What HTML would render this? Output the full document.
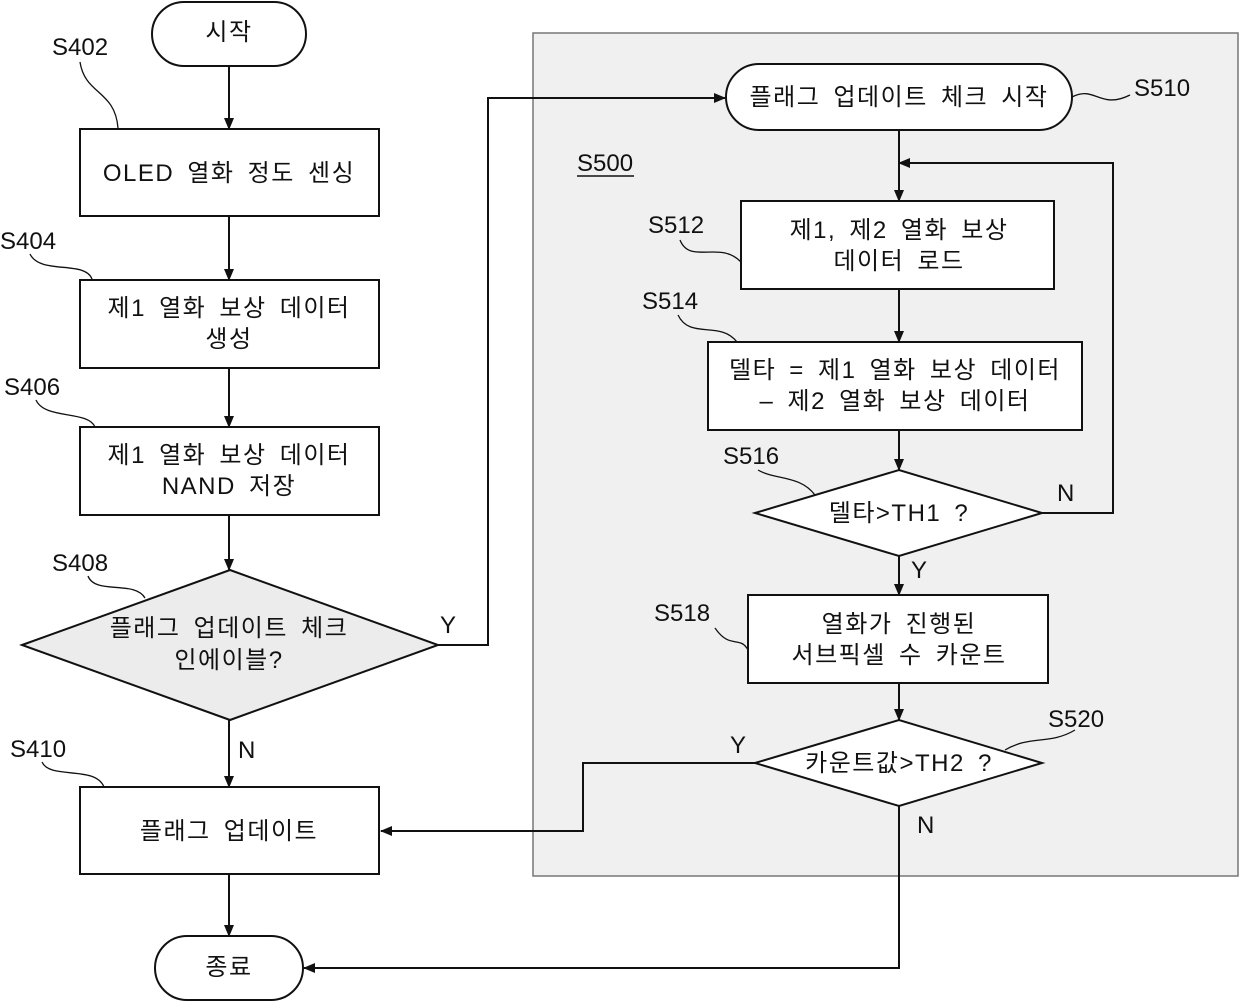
<!DOCTYPE html>
<html><head><meta charset="utf-8"><style>
body{margin:0;background:#fff}
text{font-family:"Liberation Sans","Noto Sans CJK KR",sans-serif;font-size:24px;fill:#111}
g.n text{letter-spacing:1.5px;word-spacing:5px}
</style></head><body>
<svg width="1240" height="1003" viewBox="0 0 1240 1003" xmlns="http://www.w3.org/2000/svg">
<defs><marker id="a" markerWidth="12" markerHeight="10" refX="11" refY="5" orient="auto" markerUnits="userSpaceOnUse"><path d="M0,0 L12,5 L0,10 z" fill="#111"/></marker></defs>
<rect x="533" y="33" width="705" height="843" fill="#f0f0f0" stroke="#777" stroke-width="1.5"/>
<g stroke="#111" stroke-width="2" fill="none">
<rect x="152" y="2" width="154" height="64" rx="32" fill="#fff"/>
<rect x="80" y="129" width="299" height="87" fill="#fff"/>
<rect x="80" y="280" width="299" height="88" fill="#fff"/>
<rect x="80" y="427" width="299" height="88" fill="#fff"/>
<polygon points="22,645 230,570 438,645 230,720" fill="#ececec"/>
<rect x="80" y="787" width="299" height="87" fill="#fff"/>
<rect x="155" y="936" width="148" height="64" rx="32" fill="#fff"/>
<rect x="726" y="64" width="346" height="66" rx="33" fill="#fff"/>
<rect x="741" y="201" width="313" height="88" fill="#fff"/>
<rect x="708" y="342" width="374" height="88" fill="#fff"/>
<polygon points="755,513 899,470 1042,513 899,556" fill="#fff"/>
<rect x="748" y="595" width="300" height="88" fill="#fff"/>
<polygon points="755,763 899,720 1042,763 899,806" fill="#fff"/>
<line x1="229" y1="66" x2="229" y2="129" marker-end="url(#a)"/>
<line x1="229" y1="216" x2="229" y2="280" marker-end="url(#a)"/>
<line x1="229" y1="368" x2="229" y2="427" marker-end="url(#a)"/>
<line x1="229" y1="515" x2="229" y2="570" marker-end="url(#a)"/>
<line x1="229" y1="720" x2="229" y2="787" marker-end="url(#a)"/>
<line x1="229" y1="874" x2="229" y2="936" marker-end="url(#a)"/>
<polyline points="438,645 488,645 488,98 725,98" marker-end="url(#a)"/>
<line x1="899" y1="130" x2="899" y2="201" marker-end="url(#a)"/>
<polyline points="1042,513 1113,513 1113,163 899,163" marker-end="url(#a)"/>
<line x1="899" y1="289" x2="899" y2="342" marker-end="url(#a)"/>
<line x1="899" y1="430" x2="899" y2="470" marker-end="url(#a)"/>
<line x1="899" y1="556" x2="899" y2="595" marker-end="url(#a)"/>
<line x1="899" y1="683" x2="899" y2="720" marker-end="url(#a)"/>
<polyline points="755,763 583,763 583,831 381,831" marker-end="url(#a)"/>
<polyline points="899,806 899,968 304,968" marker-end="url(#a)"/>
<g stroke-width="1.3">
<path d="M80,62 C85,95 115,90 118,128"/>
<path d="M30,254 C40,275 85,260 92,279"/>
<path d="M36,400 C45,420 88,410 95,427"/>
<path d="M88,576 C95,595 135,580 145,598"/>
<path d="M42,762 C50,780 95,765 104,787"/>
<path d="M1072,97 C1095,85 1100,110 1130,95"/>
<path d="M680,240 C690,265 720,240 741,262"/>
<path d="M678,315 C690,340 720,320 737,342"/>
<path d="M758,470 C775,480 800,475 815,495"/>
<path d="M715,628 C730,650 740,635 748,650"/>
<path d="M1005,750 C1030,735 1050,745 1075,730"/>
</g>
</g>
<g text-anchor="middle" class="n">
<text x="229" y="40">시작</text>
<text x="229" y="181">OLED 열화 정도 센싱</text>
<text x="229" y="316">제1 열화 보상 데이터</text>
<text x="229" y="347">생성</text>
<text x="229" y="463">제1 열화 보상 데이터</text>
<text x="229" y="494">NAND 저장</text>
<text x="229" y="636">플래그 업데이트 체크</text>
<text x="229" y="668">인에이블?</text>
<text x="229" y="839">플래그 업데이트</text>
<text x="229" y="975">종료</text>
<text x="899" y="105">플래그 업데이트 체크 시작</text>
<text x="899" y="238">제1, 제2 열화 보상</text>
<text x="899" y="269">데이터 로드</text>
<text x="895" y="378">델타 = 제1 열화 보상 데이터</text>
<text x="895" y="409">– 제2 열화 보상 데이터</text>
<text x="899" y="521">델타&gt;TH1 ?</text>
<text x="899" y="632">열화가 진행된</text>
<text x="899" y="663">서브픽셀 수 카운트</text>
<text x="899" y="771">카운트값&gt;TH2 ?</text>
</g>
<text x="52" y="55">S402</text>
<text x="0" y="249">S404</text>
<text x="4" y="395">S406</text>
<text x="52" y="571">S408</text>
<text x="10" y="757">S410</text>
<text x="1134" y="96">S510</text>
<text x="577" y="171">S500</text>
<line x1="577" y1="176" x2="634" y2="176" stroke="#111" stroke-width="1.5"/>
<text x="648" y="233">S512</text>
<text x="642" y="309">S514</text>
<text x="723" y="464">S516</text>
<text x="654" y="621">S518</text>
<text x="1048" y="727">S520</text>
<text x="440" y="633">Y</text>
<text x="238" y="758">N</text>
<text x="1057" y="501">N</text>
<text x="911" y="578">Y</text>
<text x="730" y="753">Y</text>
<text x="917" y="833">N</text>
</svg>
</body></html>
